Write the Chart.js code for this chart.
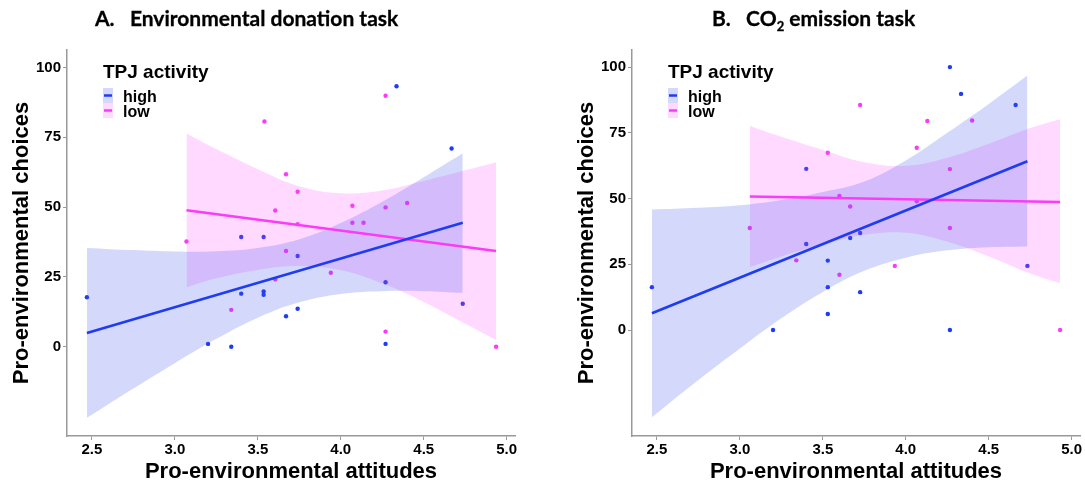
<!DOCTYPE html>
<html>
<head>
<meta charset="utf-8">
<script src="https://cdn.jsdelivr.net/npm/chart.js@4.4.1/dist/chart.umd.min.js"></script>
<style>
  body { margin: 0; background: #fff; width: 1085px; height: 490px; position: relative; overflow: hidden; }
  canvas { position: absolute; top: 0; }
  .title { position: absolute; top: 5px; line-height: 26px; font: 700 21px Lato, sans-serif; white-space: pre; color: #000; z-index: 2; -webkit-text-stroke: 0.3px #000; }
  .title sub { font-size: 13px; line-height: 0; }
</style>
</head>
<body>
<canvas id="chartA" width="545" height="490" style="left:0"></canvas>
<canvas id="chartB" width="540" height="490" style="left:545px"></canvas>
<div class="title" style="left:95px">A.   Environmental donation task</div>
<div class="title" style="left:712px">B.   CO<sub>2</sub> emission task</div>
<script>
const xTicks = [2.5, 3.0, 3.5, 4.0, 4.5, 5.0];
const yTicks = [0, 25, 50, 75, 100];
const legendLabels = ["high", "low"];

// A. Environmental donation task
const donationHighX = [2.47, 3.2, 3.34, 3.4, 3.4, 3.535, 3.535, 3.535, 3.67, 3.74, 3.74, 4.27, 4.27, 4.336, 4.668, 4.735];
const donationHighY = [17.7, 1, 0, 19, 39.3, 19.8, 18.6, 39.3, 10.9, 13.6, 32.5, 23.1, 1, 93.3, 71, 15.4];
const donationLowX = [3.07, 3.34, 3.54, 3.605, 3.605, 3.67, 3.67, 3.74, 3.74, 3.94, 4.07, 4.07, 4.137, 4.27, 4.27, 4.27, 4.40, 4.936];
const donationLowY = [37.7, 13.2, 80.7, 48.8, 24.1, 61.8, 34.3, 55.5, 43.9, 26.5, 50.5, 44.4, 44.4, 89.9, 49.9, 5.4, 51.5, 0];
const donationHighFitX = [2.47, 4.735];
const donationHighFitY = [4.9, 44.4];
const donationLowFitX = [3.07, 4.936];
const donationLowFitY = [48.9, 34.3];
const donationHighBandX = [2.47, 2.75, 3.0, 3.25, 3.5, 3.75, 4.0, 4.25, 4.5, 4.735];
const donationHighBandUpper = [35.4, 34.6, 34.1, 34.2, 35.4, 38.5, 44.3, 51.9, 60.7, 69.3];
const donationHighBandLower = [-25.5, -15.0, -5.9, 2.8, 10.4, 15.9, 18.9, 19.9, 19.9, 19.3];
const donationLowBandX = [3.07, 3.25, 3.5, 3.75, 4.0, 4.25, 4.5, 4.75, 4.936];
const donationLowBandUpper = [76.4, 70.8, 63.6, 57.5, 55.0, 56.0, 59.4, 63.2, 66.1];
const donationLowBandLower = [21.3, 24.5, 27.5, 28.9, 27.4, 22.7, 16.0, 8.2, 2.4];

// B. CO2 emission task
const emissionHighX = [2.47, 3.2, 3.4, 3.4, 3.53, 3.53, 3.53, 3.665, 3.725, 3.725, 4.266, 4.266, 4.333, 4.662, 4.733];
const emissionHighY = [16.3, 0, 32.7, 61.3, 26.4, 16.3, 6.1, 35, 36.9, 14.4, 0, 100, 89.8, 85.6, 24.4];
const emissionLowX = [3.06, 3.34, 3.53, 3.6, 3.6, 3.665, 3.725, 3.934, 4.066, 4.066, 4.13, 4.266, 4.266, 4.4, 4.93];
const emissionLowY = [38.8, 26.5, 67.4, 51, 21, 47, 85.6, 24.4, 69.3, 49, 79.5, 61.2, 38.8, 79.7, 0];
const emissionHighFitX = [2.47, 4.733];
const emissionHighFitY = [6.4, 64.2];
const emissionLowFitX = [3.06, 4.93];
const emissionLowFitY = [50.8, 48.7];
const emissionHighBandX = [2.47, 2.75, 3.0, 3.25, 3.5, 3.75, 4.0, 4.25, 4.5, 4.733];
const emissionHighBandUpper = [45.8, 46.5, 47.5, 49.5, 52.5, 56.5, 64.5, 75.0, 86.0, 96.8];
const emissionHighBandLower = [-33.2, -19.0, -7.0, 4.5, 14.5, 22.5, 27.5, 30.3, 31.5, 31.8];
const emissionLowBandX = [3.06, 3.25, 3.5, 3.75, 4.0, 4.25, 4.5, 4.75, 4.93];
const emissionLowBandUpper = [77.6, 73.5, 68.5, 63.8, 62.5, 65.5, 70.8, 76.8, 80.2];
const emissionLowBandLower = [23.9, 28.0, 32.5, 36.2, 37.0, 33.6, 28.0, 21.5, 17.8];

const BLUE = "#1f3cf2";
const PINK = "#fa3cf8";
const BLUE_BAND = "rgba(60, 80, 240, 0.22)";
const PINK_BAND = "rgba(255, 64, 255, 0.2)";
const AXIS_GREY = "#999999";
const SANS = "'Liberation Sans', Arial, sans-serif";

const pairs = (xs, ys) => xs.map((x, i) => ({ x, y: ys[i] }));

const insetLegend = {
    id: "insetLegend",
    afterDraw(chart) {
        const { ctx, chartArea } = chart;
        const x0 = chartArea.left + 36;
        const keys = [
            { label: legendLabels[0], band: BLUE_BAND, line: BLUE },
            { label: legendLabels[1], band: PINK_BAND, line: PINK }
        ];
        ctx.save();
        ctx.fillStyle = "#000";
        ctx.font = "bold 19px " + SANS;
        ctx.textBaseline = "alphabetic";
        ctx.fillText("TPJ activity", x0, 78);
        keys.forEach((k, i) => {
            const top = 88 + i * 15;
            ctx.fillStyle = k.band;
            ctx.fillRect(x0, top, 10, 15);
            ctx.strokeStyle = k.line;
            ctx.lineWidth = 2.5;
            ctx.beginPath();
            ctx.moveTo(x0 + 1, top + 7.5);
            ctx.lineTo(x0 + 9, top + 7.5);
            ctx.stroke();
            ctx.fillStyle = "#000";
            ctx.font = "bold 16px " + SANS;
            ctx.fillText(k.label, x0 + 20, top + 13.5);
        });
        ctx.restore();
    }
};

function bandSets(xs, upper, lower, color) {
    return [
        { type: "line", data: pairs(xs, upper), borderWidth: 0, pointRadius: 0, tension: 0.4, fill: "+1", backgroundColor: color, order: 2 },
        { type: "line", data: pairs(xs, lower), borderWidth: 0, pointRadius: 0, tension: 0.4, fill: false, order: 2 }
    ];
}

function fitLine(xs, ys, color) {
    return { type: "line", data: pairs(xs, ys), borderColor: color, borderWidth: 2.6, pointRadius: 0, fill: false, order: 1 };
}

function pointSet(xs, ys, color) {
    return { type: "scatter", data: pairs(xs, ys), backgroundColor: color, borderWidth: 0, pointRadius: 2.2, order: 3 };
}

function makePanel(id, d) {
    return new Chart(document.getElementById(id), {
        type: "scatter",
        data: {
            datasets: [
                ...bandSets(d.highBandX, d.highBandUpper, d.highBandLower, BLUE_BAND),
                ...bandSets(d.lowBandX, d.lowBandUpper, d.lowBandLower, PINK_BAND),
                fitLine(d.highFitX, d.highFitY, BLUE),
                fitLine(d.lowFitX, d.lowFitY, PINK),
                pointSet(d.highX, d.highY, BLUE),
                pointSet(d.lowX, d.lowY, PINK)
            ]
        },
        options: {
            responsive: false,
            animation: false,
            devicePixelRatio: 1,
            layout: { padding: { top: 50, left: d.padLeft, right: d.padRight, bottom: 0 } },
            plugins: { legend: { display: false }, tooltip: { enabled: false } },
            scales: {
                x: {
                    type: "linear",
                    min: 2.35,
                    max: 5.05,
                    afterBuildTicks: s => { s.ticks = xTicks.map(v => ({ value: v })); },
                    afterFit: s => { s.height = 54; },
                    grid: { drawOnChartArea: false, drawTicks: true, tickLength: 4, color: AXIS_GREY, lineWidth: 1 },
                    border: { display: true, color: AXIS_GREY, width: 1.5 },
                    ticks: { color: "#000", padding: 1, font: { family: SANS, size: 15, weight: "bold" }, callback: v => v.toFixed(1) },
                    title: { display: true, text: "Pro-environmental attitudes", color: "#000", font: { family: SANS, size: 22, weight: "bold" }, padding: { top: 0, bottom: 5 } }
                },
                y: {
                    min: d.yMin,
                    max: d.yMax,
                    afterBuildTicks: s => { s.ticks = yTicks.map(v => ({ value: v })); },
                    afterFit: s => { s.width = 67; },
                    grid: { drawOnChartArea: false, drawTicks: true, tickLength: 4, color: AXIS_GREY, lineWidth: 1 },
                    border: { display: true, color: AXIS_GREY, width: 1.5 },
                    ticks: { color: "#000", padding: 2, font: { family: SANS, size: 15, weight: "bold" } },
                    title: { display: true, text: "Pro-environmental choices", color: "#000", font: { family: SANS, size: 22, weight: "bold" }, padding: { top: 9, bottom: 0 } }
                }
            }
        },
        plugins: [insetLegend]
    });
}

makePanel("chartA", {
    highX: donationHighX, highY: donationHighY, lowX: donationLowX, lowY: donationLowY,
    highFitX: donationHighFitX, highFitY: donationHighFitY, lowFitX: donationLowFitX, lowFitY: donationLowFitY,
    highBandX: donationHighBandX, highBandUpper: donationHighBandUpper, highBandLower: donationHighBandLower,
    lowBandX: donationLowBandX, lowBandUpper: donationLowBandUpper, lowBandLower: donationLowBandLower,
    yMin: -32, yMax: 106.3, padLeft: 0, padRight: 30
});

makePanel("chartB", {
    highX: emissionHighX, highY: emissionHighY, lowX: emissionLowX, lowY: emissionLowY,
    highFitX: emissionHighFitX, highFitY: emissionHighFitY, lowFitX: emissionLowFitX, lowFitY: emissionLowFitY,
    highBandX: emissionHighBandX, highBandUpper: emissionHighBandUpper, highBandLower: emissionHighBandLower,
    lowBandX: emissionLowBandX, lowBandUpper: emissionLowBandUpper, lowBandLower: emissionLowBandLower,
    yMin: -40.3, yMax: 106.5, padLeft: 20, padRight: 5
});
</script>
</body>
</html>
